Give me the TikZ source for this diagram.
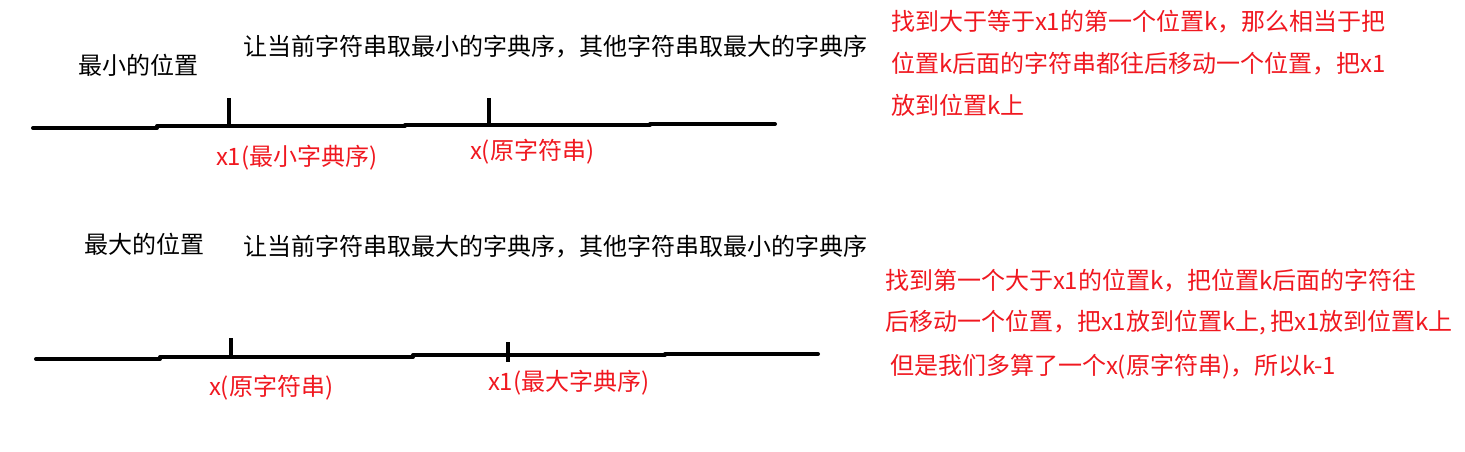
\documentclass[tikz,border=0pt]{standalone}
\usepackage{fontspec}
\setmainfont{Noto Sans CJK SC}
\definecolor{txtred}{RGB}{240,24,32}
\begin{document}
\begin{tikzpicture}[x=1pt,y=-1pt,
  every node/.style={inner sep=0pt,outer sep=0pt,anchor=west},
  blk/.style={font=\fontsize{24}{28}\selectfont,text=black},
  rd/.style={font=\fontsize{24}{28}\selectfont,text=txtred},
  stroke/.style={line width=4pt,line cap=round,black}]
\useasboundingbox (0,0) rectangle (1465,451);
% top section
\node[blk] (t1) at (78,65) {最小的位置};
\node[blk] (t2) at (243,47) {让当前字符串取最小的字典序，其他字符串取最大的字典序};
\coordinate (a0) at (33,128); \coordinate (a1) at (157,128);
\coordinate (a2) at (157,126); \coordinate (a3) at (405,126);
\coordinate (a4) at (405,125); \coordinate (a5) at (650,125);
\coordinate (a6) at (650,124); \coordinate (a7) at (775,124);
\draw[stroke] (a0)--(a1) (a2)--(a3) (a4)--(a5) (a6)--(a7);
\coordinate (ta) at (229,98); \coordinate (tb) at (229,126);
\coordinate (tc) at (489,98); \coordinate (td) at (489,125);
\draw[stroke,line cap=butt] (ta)--(tb) (tc)--(td);
\node[rd] (l1) at (216,158) {x1(最小字典序)};
\node[rd] (l2) at (470,152) {x(原字符串)};
\node[rd] (r1) at (891,22) {找到大于等于x1的第一个位置k，那么相当于把};
\node[rd] (r2) at (891,64) {位置k后面的字符串都往后移动一个位置，把x1};
\node[rd] (r3) at (891,105) {放到位置k上};
% bottom section
\node[blk] (b1) at (84,244) {最大的位置};
\node[blk] (b2) at (243,247) {让当前字符串取最大的字典序，其他字符串取最小的字典序};
\coordinate (c0) at (36,359); \coordinate (c1) at (160,359);
\coordinate (c2) at (160,357); \coordinate (c3) at (413,357);
\coordinate (c4) at (413,355); \coordinate (c5) at (665,355);
\coordinate (c6) at (665,354); \coordinate (c7) at (818,354);
\draw[stroke] (c0)--(c1) (c2)--(c3) (c4)--(c5) (c6)--(c7);
\coordinate (ua) at (231,338); \coordinate (ub) at (231,357);
\coordinate (uc) at (508,342); \coordinate (ud) at (508,362);
\draw[stroke,line cap=butt] (ua)--(ub) (uc)--(ud);
\node[rd] (m1) at (209,388) {x(原字符串)};
\node[rd] (m2) at (488,383) {x1(最大字典序)};
\node[rd] (s1) at (885,281) {找到第一个大于x1的位置k，把位置k后面的字符往};
\node[rd] (s2) at (885,323) {后移动一个位置，把x1放到位置k上,\,把x1放到位置k上};
\node[rd] (s3) at (890,367) {但是我们多算了一个x(原字符串)，所以k-1};
\end{tikzpicture}
\end{document}
